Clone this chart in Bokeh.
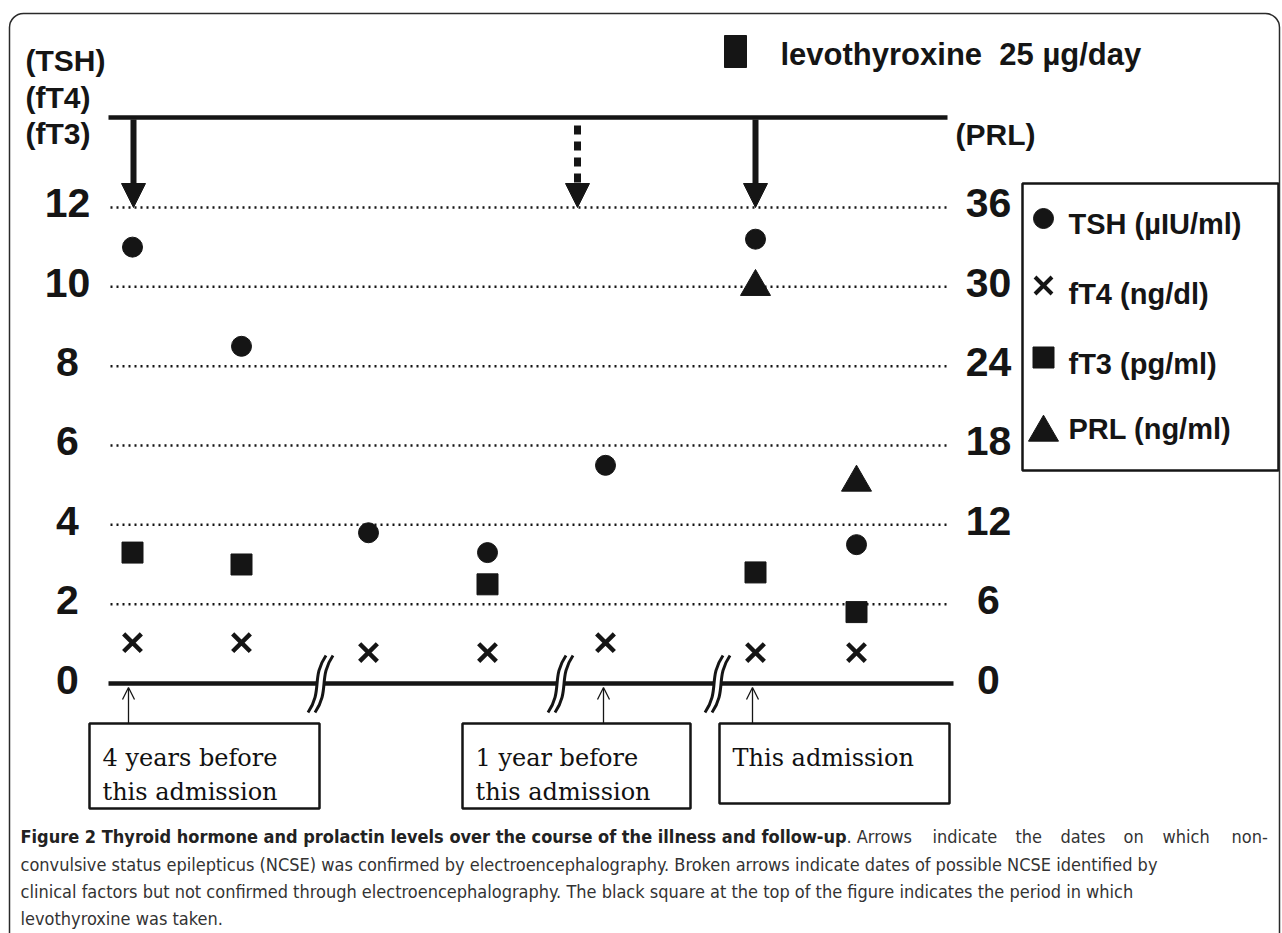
from bokeh.plotting import figure
from bokeh.models import Range1d, Arrow, NormalHead, OpenHead, BoxAnnotation
from bokeh.core.properties import value
from bokeh.embed import file_html
from bokeh.resources import INLINE

# ---------------- data ----------------
visit_x = [132, 241, 368, 487, 605, 755, 856]          # positions of the visits along the time axis
tsh = [11.0, 8.5, 3.8, 3.3, 5.5, 11.2, 3.5]            # TSH (µIU/ml), left axis
ft4 = [1.03, 1.03, 0.78, 0.78, 1.03, 0.78, 0.78]       # fT4 (ng/dl), left axis
ft3_x = [132, 241, 487, 755, 856]
ft3 = [3.3, 3.0, 2.5, 2.8, 1.8]                        # fT3 (pg/ml), left axis
prl_x = [755, 856]
prl = [30.0, 15.2]                                     # PRL (ng/ml), right axis
left_ticks = [0, 2, 4, 6, 8, 10, 12]
right_ticks = [0, 6, 12, 18, 24, 30, 36]
breaks_x = [320, 560, 717]                             # axis breaks on the time axis
ncse_confirmed_x = [133, 755]                          # solid arrows
ncse_possible_x = [577]                                # broken arrow
timepoint_x = [128, 603, 752]
timepoint_labels = [["4 years before", "this admission"],
                    ["1 year before", "this admission"],
                    ["This admission"]]
legend_labels = ["TSH (µIU/ml)", "fT4 (ng/dl)", "fT3 (pg/ml)", "PRL (ng/ml)"]
left_axis_titles = ["(TSH)", "(fT4)", "(fT3)"]
right_axis_title = "(PRL)"
drug_label = "levothyroxine\u00a0\u00a025 µg/day"
caption_bold = "Figure 2 Thyroid hormone and prolactin levels over the course of the illness and follow-up"
caption_rest_words = [". Arrows", "indicate", "the", "dates", "on", "which", "non-"]
caption_lines = [
    "convulsive status epilepticus (NCSE) was confirmed by electroencephalography. Broken arrows indicate dates of possible NCSE identified by",
    "clinical factors but not confirmed through electroencephalography. The black square at the top of the figure indicates the period in which",
    "levothyroxine was taken.",
]

# ---------------- layout ----------------
W, H = 1282, 933
Y0, S = 683.0, 39.67            # page y of value 0, pixels per unit
y_lo = (Y0 - H) / S
y_hi = Y0 / S
INK = "#151515"
SANS = value("Liberation Sans")
SERIF = value("DejaVu Serif")
CAPF = value("'Liberation Sans Narrow', 'DejaVu Sans Condensed', 'Liberation Sans', sans-serif")

p = figure(width=W, height=H, x_range=Range1d(0, W), y_range=Range1d(y_lo, y_hi),
           output_backend="svg", toolbar_location=None,
           x_axis_location=None, y_axis_location=None, min_border=0,
           outline_line_color=None, background_fill_color="white", border_fill_color="white")
p.grid.visible = False
p.extra_y_ranges = {"px": Range1d(H, 0), "prl": Range1d(3 * y_lo, 3 * y_hi)}

# outer rounded frame
p.add_layout(BoxAnnotation(left=9, right=1279, top=13, bottom=960, y_range_name="px",
                           fill_alpha=0, line_color="#2a2a2a", line_alpha=1, line_width=1.5,
                           border_radius=14))

# dotted grid lines
gl = left_ticks[1:]
p.segment(x0=[110] * len(gl), x1=[950] * len(gl), y0=gl, y1=gl,
          line_color=INK, line_width=2.5, line_dash="2 4")

# baseline with breaks
b_starts = [108] + [b + 4 for b in breaks_x]
b_ends = [b - 4 for b in breaks_x] + [953]
p.segment(x0=b_starts, x1=b_ends, y0=[0] * len(b_starts), y1=[0] * len(b_starts),
          line_color=INK, line_width=4.5)
for b in breaks_x:
    for dx in (-3.5, 3.5):
        p.bezier(x0=[b + dx + 9], y0=[655], x1=[b + dx - 9], y1=[712],
                 cx0=[b + dx - 6], cy0=[677], cx1=[b + dx + 6], cy1=[690],
                 y_range_name="px", line_color=INK, line_width=3)

# top line and NCSE arrows
p.segment(x0=[108], x1=[947], y0=[117], y1=[117], y_range_name="px", line_color=INK, line_width=4.5)
for xa in ncse_confirmed_x:
    p.add_layout(Arrow(end=NormalHead(size=24, fill_color=INK, line_color=INK, line_width=1),
                       x_start=xa, y_start=119, x_end=xa, y_end=207, y_range_name="px",
                       line_color=INK, line_width=6))
for xa in ncse_possible_x:
    p.add_layout(Arrow(end=NormalHead(size=24, fill_color=INK, line_color=INK, line_width=1),
                       x_start=xa, y_start=125, x_end=xa, y_end=207, y_range_name="px",
                       line_color=INK, line_width=7, line_dash="9 7"))

# axis tick labels
p.text(x=[67] * len(left_ticks), y=left_ticks, text=[str(t) for t in left_ticks],
       text_font=SANS, text_font_style="bold", text_font_size="41px", text_color=INK,
       text_align="center", text_baseline="middle", y_offset=-4)
p.text(x=[988] * len(right_ticks), y=right_ticks, text=[str(t) for t in right_ticks],
       y_range_name="prl", text_font=SANS, text_font_style="bold", text_font_size="41px",
       text_color=INK, text_align="center", text_baseline="middle", y_offset=-4)

# axis titles
p.text(x=[25] * 3, y=[60, 97, 133], text=left_axis_titles, y_range_name="px",
       text_font=SANS, text_font_style="bold", text_font_size="30px", text_color=INK,
       text_align="left", text_baseline="middle")
p.text(x=[955], y=[134], text=[right_axis_title], y_range_name="px",
       text_font=SANS, text_font_style="bold", text_font_size="30px", text_color=INK,
       text_align="left", text_baseline="middle")

# levothyroxine marker
p.quad(left=[724], right=[746], top=[35], bottom=[67], y_range_name="px", color=INK)
p.text(x=[780], y=[54], text=[drug_label], y_range_name="px",
       text_font=SANS, text_font_style="bold", text_font_size="31px", text_color=INK,
       text_align="left", text_baseline="middle")

# data markers
p.scatter(visit_x, tsh, marker="circle", size=20, color=INK)
p.scatter(visit_x, ft4, marker="x", size=25, line_color=INK, line_width=4.5)
p.scatter(ft3_x, ft3, marker="square", size=21, color=INK)
p.scatter(prl_x, prl, marker="triangle", size=30, color=INK, y_range_name="prl")

# legend
p.quad(left=[1022], right=[1278], top=[183], bottom=[470], y_range_name="px",
       fill_color=None, line_color=INK, line_width=2.5)
lx = 1043
p.scatter([lx], [218], marker="circle", size=20, color=INK, y_range_name="px")
p.scatter([lx], [285], marker="x", size=24, line_color=INK, line_width=4, y_range_name="px")
p.scatter([lx], [357], marker="square", size=21, color=INK, y_range_name="px")
p.scatter([lx], [432], marker="triangle", size=30, color=INK, y_range_name="px")
p.text(x=[1068] * 4, y=[223, 293, 363, 428], text=legend_labels, y_range_name="px",
       text_font=SANS, text_font_style="bold", text_font_size="29px", text_color=INK,
       text_align="left", text_baseline="middle")

# time-point boxes
box_left = [89, 462, 719]
box_right = [319, 690, 949]
box_bottom = [808, 808, 803]
for i in range(3):
    p.add_layout(Arrow(end=OpenHead(size=12, line_color=INK, line_width=1.3),
                       x_start=timepoint_x[i], y_start=723, x_end=timepoint_x[i], y_end=687,
                       y_range_name="px", line_color=INK, line_width=1.3))
p.quad(left=box_left, right=box_right, top=[723] * 3, bottom=box_bottom, y_range_name="px",
       fill_color=None, line_color=INK, line_width=2.5)
for i in range(3):
    lines = timepoint_labels[i]
    p.text(x=[box_left[i] + 13] * len(lines), y=[757 + 34 * k for k in range(len(lines))],
           text=lines, y_range_name="px", text_font=SERIF, text_font_size="24px",
           text_color="#111111", text_align="left", text_baseline="alphabetic")

# caption (first line justified to the right margin)
CAP_SIZE = "18px"
p.text(x=[20], y=[836], text=[caption_bold], y_range_name="px", text_font=CAPF,
       text_font_style="bold", text_font_size=CAP_SIZE, text_color="#222222",
       text_align="left", text_baseline="middle")
rest_x = [846, 932, 1015, 1060, 1123, 1162, 1231]
p.text(x=rest_x, y=[836] * len(rest_x), text=caption_rest_words, y_range_name="px", text_font=CAPF,
       text_font_size=CAP_SIZE, text_color="#333333", text_align="left", text_baseline="middle")
p.text(x=[20] * 3, y=[864, 891, 918], text=caption_lines, y_range_name="px", text_font=CAPF,
       text_font_size=CAP_SIZE, text_color="#333333", text_align="left", text_baseline="middle")

open("out.html", "w").write(file_html(p, INLINE))
